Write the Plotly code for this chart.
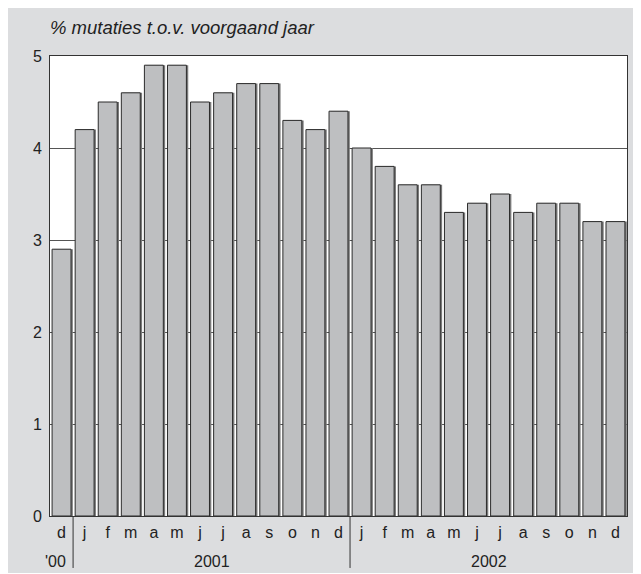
import plotly.graph_objects as go

# maandelijkse mutaties, dec 2000 t/m dec 2002
maanden = ["d", "j", "f", "m", "a", "m", "j", "j", "a", "s", "o", "n", "d",
           "j", "f", "m", "a", "m", "j", "j", "a", "s", "o", "n", "d"]
waarden = [2.9, 4.2, 4.5, 4.6, 4.9, 4.9, 4.5, 4.6, 4.7, 4.7, 4.3, 4.2, 4.4,
           4.0, 3.8, 3.6, 3.6, 3.3, 3.4, 3.5, 3.3, 3.4, 3.4, 3.2, 3.2]
jaren = ["'00", "2001", "2002"]
jaar_lengte = [1, 12, 12]

x = list(range(len(waarden)))
breedte = 0.82

fig = go.Figure()
# schaduw rechts van de staven
fig.add_trace(go.Bar(
    x=x, y=waarden, width=breedte, offset=-breedte / 2 + 0.08,
    marker=dict(color="#7a7a7a", line=dict(width=0)),
    hoverinfo="skip",
))
fig.add_trace(go.Bar(
    x=x, y=waarden, width=breedte, offset=-breedte / 2,
    marker=dict(color="#bebfc1", line=dict(color="#2b2b2b", width=1)),
))

# jaarlabels en scheidingslijnen
start = 0
for i, (jaar, n) in enumerate(zip(jaren, jaar_lengte)):
    midden = start + (n - 1) / 2
    if n == 1:
        fig.add_annotation(x=start + 0.5, y=0, xref="x", yref="paper",
                           text=jaar, showarrow=False, xanchor="right",
                           yanchor="top", xshift=-5, yshift=-35,
                           font=dict(size=16, color="#222"))
    else:
        fig.add_annotation(x=midden, y=0, xref="x", yref="paper",
                           text=jaar, showarrow=False, yanchor="top",
                           yshift=-35, font=dict(size=16, color="#222"))
    if i < len(jaren) - 1:
        grens = start + n - 0.5
        fig.add_shape(type="line", xref="x", yref="paper",
                      x0=grens, x1=grens, y0=0, y1=-0.113,
                      line=dict(color="#333", width=1))
    start += n

fig.add_annotation(x=0, y=1, xref="paper", yref="paper",
                   text="<i>% mutaties t.o.v. voorgaand jaar</i>",
                   showarrow=False, xanchor="left", yanchor="bottom",
                   xshift=-2, yshift=16,
                   font=dict(size=18.5, color="#222"))

# de pagina heeft 8px marge, daarom breedte/hoogte en marges daarop afgestemd
fig.update_layout(
    width=633,
    height=565,
    margin=dict(l=42, r=14, t=48, b=57),
    paper_bgcolor="#dcdddf",
    plot_bgcolor="white",
    barmode="overlay",
    font=dict(family="Liberation Sans, Arial, sans-serif", color="#222"),
    showlegend=False,
    xaxis=dict(
        tickvals=x,
        ticktext=maanden,
        range=[-0.5, len(waarden) - 0.5],
        showgrid=False,
        showline=True,
        linecolor="#333",
        linewidth=1,
        mirror=True,
        ticks="",
        ticklabelstandoff=2,
        tickfont=dict(size=16),
    ),
    yaxis=dict(
        range=[0, 5],
        tickvals=[0, 1, 2, 3, 4, 5],
        showgrid=True,
        gridcolor="#555",
        gridwidth=1,
        showline=True,
        linecolor="#333",
        linewidth=1,
        mirror=True,
        zeroline=False,
        ticks="",
        ticklabelstandoff=4,
        tickfont=dict(size=16),
    ),
)

fig.write_html("out.html")
